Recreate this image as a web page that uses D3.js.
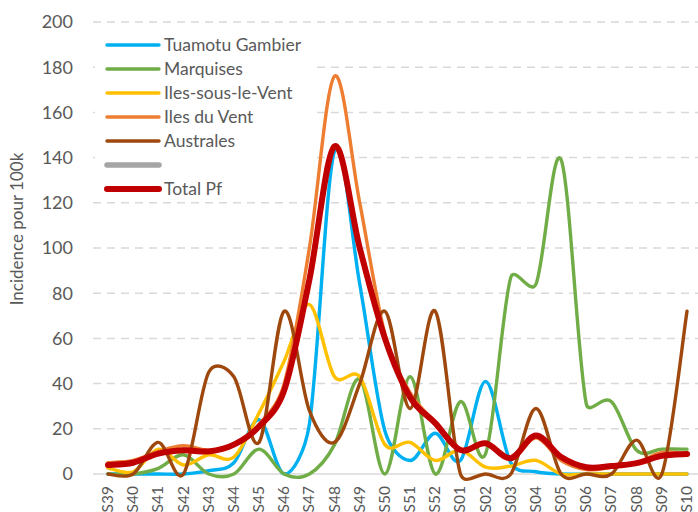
<!DOCTYPE html>
<html><head><meta charset="utf-8">
<script src="https://cdn.jsdelivr.net/npm/d3@7"></script>
<style>html,body{margin:0;padding:0;background:#fff;}</style>
</head><body>
<svg id="c" width="698" height="512"></svg>
<script>
const weeks = ["S39","S40","S41","S42","S43","S44","S45","S46","S47","S48","S49","S50","S51","S52","S01","S02","S03","S04","S05","S06","S07","S08","S09","S10"];
const tuamotu   = [0,0,0,0,1.5,5,24,0,22,143,84,19,6,18,6,41,5,1,0,0,0,0,0,0];
const marquises = [0,0,2.5,8.5,0,0,11,0,0,13,42,0,43,0,32,9,87,84,139,31,32,10.5,11,11];
const islv      = [2.6,1,11,4,8.5,7.5,27,50,75,43,43,13,14,6,10.6,3,3.5,6,0,0,0,0,0,0];
const idv       = [5,6,10,12.5,10.5,13,22,40,100,176,120,62,36,23,11,13.5,6.5,16,6,2,3,5,9.5,9];
const australes = [0,0,14,0,45,43,14,72,28,14,40,72,29,72,0,0,0,29,0,0,0,15,0,72];
const totalPf   = [4,5,9,10.5,10,13,21,37,86,145,100,60,34,22.5,10.6,13.6,7,17,7.5,3,3.5,4.8,8,8.8];
const yTicks = [0,20,40,60,80,100,120,140,160,180,200];
const seriesNames = ["Tuamotu Gambier","Marquises","Iles-sous-le-Vent","Iles du Vent","Australes","","Total Pf"];
const seriesColors = ["#00B0F0","#70AD47","#FFC000","#ED7D31","#9E480E","#A5A5A5","#C00000"];
const seriesData = [tuamotu, marquises, islv, idv, australes, null, totalPf];
const seriesWidths = [3.4,3.4,3.4,3.4,3.4,5.5,6];

// Excel-style smoothed curve for d3.line()
function ExcelSmooth(context){ this._context = context; }
ExcelSmooth.prototype = {
  areaStart(){ this._line = 0; }, areaEnd(){ this._line = NaN; },
  lineStart(){ this._pts = []; },
  point(x,y){ this._pts.push([+x,+y]); },
  lineEnd(){
    const P = this._pts, c = this._context, n = P.length;
    if(!n) return;
    c.moveTo(P[0][0],P[0][1]);
    const dist=(a,b)=>Math.hypot(a[0]-b[0],a[1]-b[1]);
    for(let i=0;i<n-1;i++){
      const p0=P[i-1]||P[i], p1=P[i], p2=P[i+1], p3=P[i+2]||P[i+1];
      const d12=dist(p1,p2), d02=dist(p0,p2), d13=dist(p1,p3);
      let f1=1/6, f2=1/6;
      if(d02/6 >= d12/2) f1 = d02>0 ? d12/d02/2 : 0;
      if(d13/6 >= d12/2) f2 = d13>0 ? d12/d13/2 : 0;
      const c1=[p1[0]+(p2[0]-p0[0])*f1, p1[1]+(p2[1]-p0[1])*f1];
      const c2=[p2[0]-(p3[0]-p1[0])*f2, p2[1]-(p3[1]-p1[1])*f2];
      c.bezierCurveTo(c1[0],c1[1],c2[0],c2[1],p2[0],p2[1]);
    }
  }
};
const curveExcel = ctx => new ExcelSmooth(ctx);

const font = "Lato, 'Open Sans', sans-serif";
const svg = d3.select("#c");
const x = d3.scalePoint().domain(weeks).range([108,687]);
const y = d3.scaleLinear().domain([0,200]).range([474,22]);

// gridlines
svg.append("g").selectAll("line").data(yTicks).join("line")
  .attr("x1",93).attr("x2",698)
  .attr("y1",d=>y(d)).attr("y2",d=>y(d))
  .attr("stroke","#D9D9D9").attr("stroke-width",1.5)
  .attr("stroke-dasharray",d=>d===0?null:"8,6");

// y tick labels
svg.append("g").selectAll("text").data(yTicks).join("text")
  .attr("x",73).attr("y",d=>y(d)).attr("dy","0.35em")
  .attr("text-anchor","end").attr("font-family",font).attr("font-size",18)
  .attr("fill","#595959").text(d=>d);

// x tick labels
svg.append("g").selectAll("text").data(weeks).join("text")
  .attr("transform",d=>`translate(${x(d)+5},486) rotate(-90)`)
  .attr("text-anchor","end").attr("font-family",font).attr("font-size",15.5)
  .attr("fill","#595959").text(d=>d);

// y title
svg.append("text").attr("transform","translate(23,229) rotate(-90)")
  .attr("text-anchor","middle").attr("font-family",font).attr("font-size",17)
  .attr("fill","#595959").text("Incidence pour 100k");

// legend background
svg.append("rect").attr("x",95).attr("y",30).attr("width",222).attr("height",172).attr("fill","#fff");

// series lines
const line = d3.line().x((d,i)=>x(weeks[i])).y(d=>y(d)).curve(curveExcel);
seriesData.forEach((s,k)=>{
  if(!s) return;
  svg.append("path").datum(s).attr("d",line).attr("fill","none")
    .attr("stroke",seriesColors[k]).attr("stroke-width",seriesWidths[k])
    .attr("stroke-linejoin","round").attr("stroke-linecap","round");
});

// legend
const lg = svg.append("g");
seriesNames.forEach((n,k)=>{
  const yy = 45 + k*24;
  lg.append("line").attr("x1",107).attr("x2",159).attr("y1",yy).attr("y2",yy)
    .attr("stroke",seriesColors[k]).attr("stroke-width",seriesWidths[k]).attr("stroke-linecap","round");
  lg.append("text").attr("x",164).attr("y",yy).attr("dy","0.35em")
    .attr("font-family",font).attr("font-size",17.5).attr("fill","#595959").text(n);
});
</script>
</body></html>
